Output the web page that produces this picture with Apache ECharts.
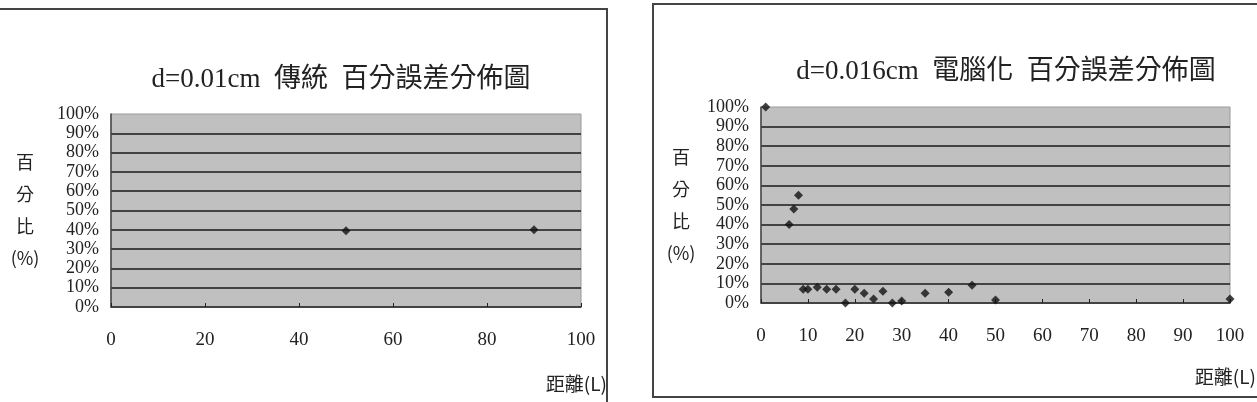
<!DOCTYPE html>
<html>
<head>
<meta charset="utf-8">
<script src="https://cdn.jsdelivr.net/npm/echarts@6/dist/echarts.min.js"></script>
<style>
    html, body { margin: 0; padding: 0; background: #fff; }
    #main { width: 1257px; height: 402px; }
</style>
</head>
<body>
<div id="main"></div>
<script>
    // 傳統 d=0.01cm
    var leftX = [50, 90];
    var leftY = [39.5, 40];
    // 電腦化 d=0.016cm
    var rightX = [1, 6, 7, 8, 9, 10, 12, 14, 16, 18, 20, 22, 24, 26, 28, 30, 35, 40, 45, 50, 100];
    var rightY = [100, 40, 48, 55, 7, 7, 8, 7, 7, 0, 7, 5, 2, 6, 0, 1, 5, 5.5, 9, 1.5, 2];

    var titles = ['d=0.01cm  傳統  百分誤差分佈圖', 'd=0.016cm  電腦化  百分誤差分佈圖'];
    var yName = '百\n分\n比\n(%)';
    var xName = '距離(L)';

    var serif = "'Liberation Serif', 'Noto Sans CJK TC', serif";
    var cjk = "'Noto Sans CJK TC', 'Liberation Serif', sans-serif";

    var pairs = function (xs, ys) {
        return xs.map(function (x, i) { return [x, ys[i]]; });
    };

    var makeX = function (idx, interval, pad) {
        return {
            gridIndex: idx,
            type: 'value',
            min: 0,
            max: 100,
            interval: interval,
            name: xName,
            nameLocation: 'end',
            nameGap: 26,
            nameTextStyle: {
                fontFamily: cjk,
                fontSize: 19,
                color: '#222',
                align: 'right',
                verticalAlign: 'top',
                padding: [pad, 0, 0, 0]
            },
            axisLine: { show: true, lineStyle: { color: '#444', width: 1.5 } },
            axisTick: { show: true, inside: true, length: 4, lineStyle: { color: '#222' } },
            axisLabel: { margin: 24, fontFamily: serif, fontSize: 19, color: '#222' },
            splitLine: { show: false }
        };
    };

    var makeY = function (idx, gap) {
        return {
            gridIndex: idx,
            type: 'value',
            min: 0,
            max: 100,
            interval: 10,
            name: yName,
            nameLocation: 'middle',
            nameRotate: 0,
            nameGap: gap,
            nameTextStyle: {
                fontFamily: cjk,
                fontSize: 18,
                lineHeight: 32,
                color: '#222',
                align: 'center',
                verticalAlign: 'middle'
            },
            axisLine: { show: true, lineStyle: { color: '#444', width: 1.5 } },
            axisTick: { show: false },
            axisLabel: { margin: 12, fontFamily: serif, fontSize: 18, color: '#222', formatter: '{value}%' },
            splitLine: { show: true, showMaxLine: false, lineStyle: { color: '#1a1a1a', width: 1.5 } }
        };
    };

    var makeSeries = function (idx, data) {
        return {
            type: 'scatter',
            xAxisIndex: idx,
            yAxisIndex: idx,
            symbol: 'diamond',
            symbolSize: 9,
            clip: false,
            itemStyle: { color: '#111' },
            data: data
        };
    };

    var myChart = echarts.init(document.getElementById('main'));
    var option = {
        backgroundColor: '#fff',
        animation: false,
        title: [
            {
                text: titles[0], left: 341, top: 66, textAlign: 'center', padding: 0,
                textStyle: { fontFamily: serif, fontSize: 27, fontWeight: 'normal', color: '#222' }
            },
            {
                text: titles[1], left: 1006, top: 58, textAlign: 'center', padding: 0,
                textStyle: { fontFamily: serif, fontSize: 27, fontWeight: 'normal', color: '#222' }
            }
        ],
        grid: [
            { left: 111, top: 114, width: 470, height: 193, show: true, backgroundColor: '#c0c0c0', borderColor: '#9a9a9a', borderWidth: 1 },
            { left: 761, top: 107, width: 475, height: 196, show: true, backgroundColor: '#c0c0c0', borderColor: '#9a9a9a', borderWidth: 1 }
        ],
        xAxis: [makeX(0, 20, 67), makeX(1, 10, 64)],
        yAxis: [makeY(0, 86), makeY(1, 80)],
        series: [makeSeries(0, pairs(leftX, leftY)), makeSeries(1, pairs(rightX, rightY))],
        graphic: [
            // chart frames
            { type: 'rect', silent: true, shape: { x: -10, y: 9, width: 617, height: 420 }, style: { fill: 'none', stroke: '#444', lineWidth: 2 } },
            { type: 'rect', silent: true, shape: { x: 653, y: 4, width: 620, height: 393 }, style: { fill: 'none', stroke: '#444', lineWidth: 2 } }
        ]
    };
    myChart.setOption(option);
</script>
</body>
</html>
